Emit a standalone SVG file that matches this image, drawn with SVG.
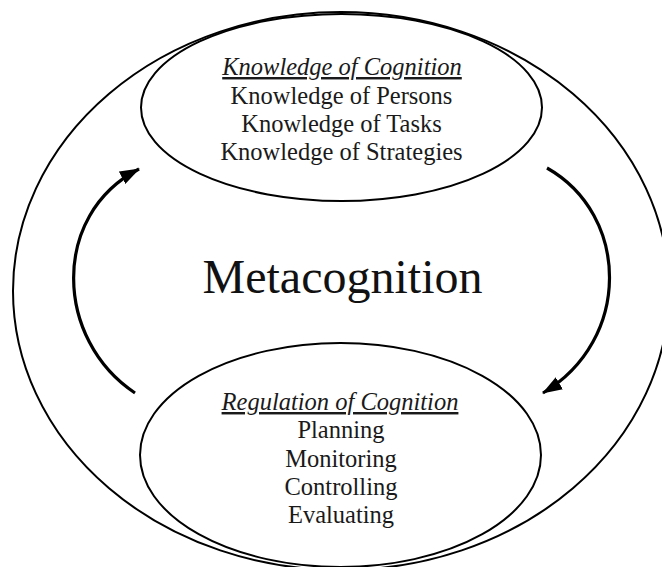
<svg xmlns="http://www.w3.org/2000/svg" width="662" height="567" viewBox="0 0 662 567">
<style>
.shape{fill:none;stroke:#000;stroke-width:2}
.arrow{fill:none;stroke:#000;stroke-width:3.2}
.t{font-family:"Liberation Serif","Times New Roman",serif;font-size:24.5px;fill:#1a1a1a;text-anchor:middle}
.h{font-style:italic;text-decoration:underline}
.big{font-family:"Liberation Serif","Times New Roman",serif;font-size:48px;fill:#111;text-anchor:middle}
</style>
<defs>
<marker id="ah" viewBox="0 0 20 14" refX="19" refY="7" markerWidth="20" markerHeight="14" markerUnits="userSpaceOnUse" orient="auto">
<path d="M0,0 L20,7 L0,14 Z" fill="#000"/>
</marker>
</defs>
<rect width="662" height="567" fill="#fff"/>
<g id="outer">
<ellipse class="shape" cx="341" cy="291" rx="328" ry="279"/>
<text class="big" x="342.5" y="293">Metacognition</text>
</g>
<g id="knowledge">
<ellipse class="shape" cx="341.5" cy="107.5" rx="200.5" ry="93.5" fill="#fff"/>
<text class="t h" x="342" y="75">Knowledge of Cognition</text>
<text class="t" x="341.5" y="103.5">Knowledge of Persons</text>
<text class="t" x="341.5" y="131.5">Knowledge of Tasks</text>
<text class="t" x="341.5" y="159.5">Knowledge of Strategies</text>
</g>
<g id="regulation">
<ellipse class="shape" cx="340.5" cy="455" rx="200.5" ry="112"/>
<text class="t h" x="340" y="410">Regulation of Cognition</text>
<text class="t" x="341" y="438">Planning</text>
<text class="t" x="341" y="466.5">Monitoring</text>
<text class="t" x="341" y="495">Controlling</text>
<text class="t" x="341" y="523">Evaluating</text>
</g>
<g id="connectors">
<path class="arrow" d="M135,393 C55,340 50,215 139,169" marker-end="url(#ah)"/>
<path class="arrow" d="M547,168 C630,215 632,340 543,393" marker-end="url(#ah)"/>
</g>
</svg>
